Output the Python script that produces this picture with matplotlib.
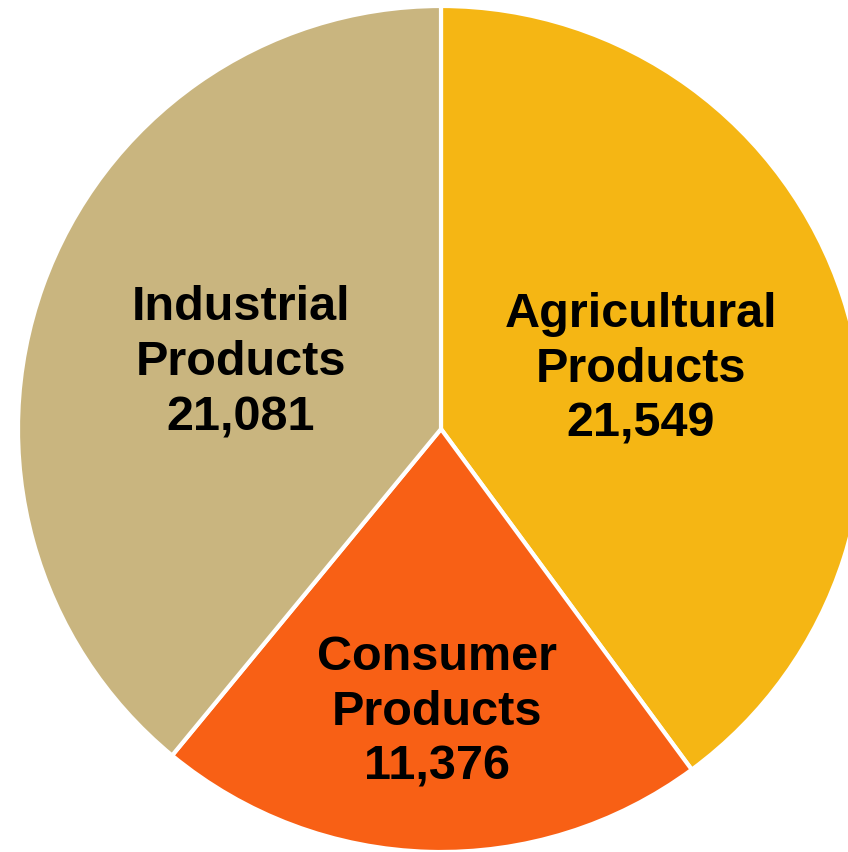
import matplotlib
matplotlib.use("Agg")
import matplotlib.pyplot as plt

categories = ["Agricultural\nProducts", "Consumer\nProducts", "Industrial\nProducts"]
values = [21549, 11376, 21081]
colors = ["#F5B614", "#F86015", "#C9B57F"]

# label anchor (x centre, baseline of first line) in pixels from top-left
label_pos = [(641, 327), (437, 670), (241, 320)]

W, H = 848, 853
fig = plt.figure(figsize=(W / 100, H / 100), dpi=100)
ax = fig.add_axes([0, 0, 1, 1])

ax.pie(values, colors=colors, startangle=90, counterclock=False,
       center=(441, H - 430), radius=423,
       wedgeprops=dict(edgecolor="white", linewidth=3))
ax.set_xlim(0, W)
ax.set_ylim(0, H)
ax.set_aspect("auto")
ax.axis("off")

for cat, val, (x, y) in zip(categories, values, label_pos):
    lines = cat.split("\n") + [f"{val:,}"]
    for i, line in enumerate(lines):
        ax.text(x, H - (y + i * 55), line, ha="center", va="baseline",
                fontsize=35, fontweight="bold", family="Liberation Sans",
                color="black")

fig.savefig("out.png", dpi=100)
